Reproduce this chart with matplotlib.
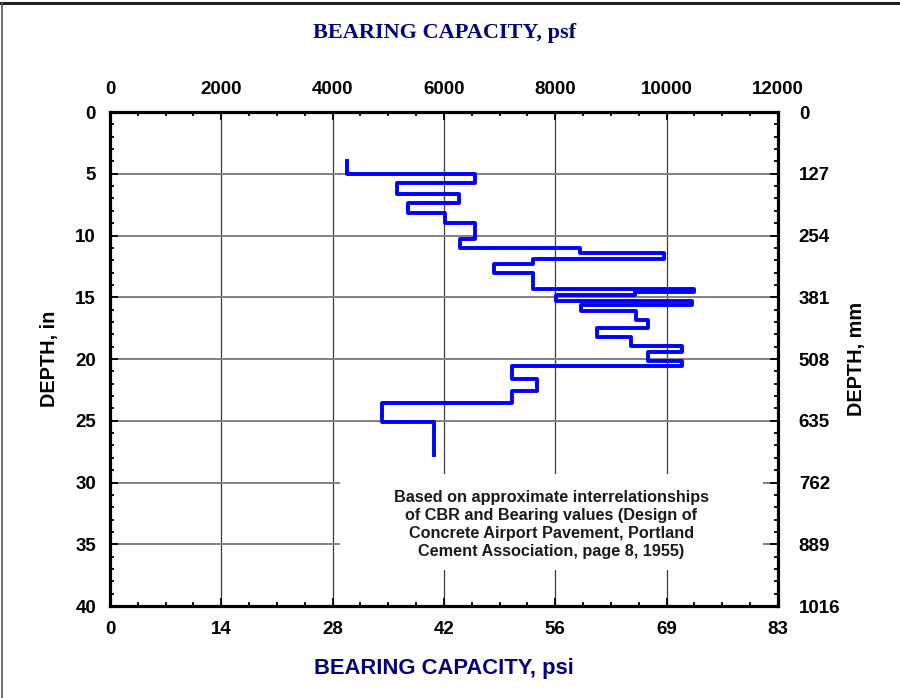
import matplotlib.pyplot as plt
from matplotlib.lines import Line2D
from matplotlib.patches import Rectangle
from matplotlib.ticker import MultipleLocator, FixedLocator, FixedFormatter

# layer boundaries (in) and bearing capacity of each layer (psf)
depth_in = [3.95, 5.0, 5.75, 6.65, 7.4, 8.2, 9.0, 10.3, 11.05, 11.45, 11.9,
            12.3, 13.0, 14.3, 14.55, 14.8, 15.3, 15.65, 16.1, 16.85, 17.5,
            18.25, 18.95, 19.45, 20.15, 20.6, 21.65, 22.6, 23.55, 25.1, 27.8]
bearing_psf = [4250, 6550, 5150, 6270, 5350, 6020, 6550, 6290, 8450, 9960,
               7600, 6890, 7600, 10500, 9430, 8010, 10450, 8460, 9450, 9660,
               8750, 9360, 10270, 9660, 10270, 7230, 7670, 7230, 4880, 5820]

psf_ticks = [0, 2000, 4000, 6000, 8000, 10000, 12000]
depth_ticks = [0, 5, 10, 15, 20, 25, 30, 35, 40]
note = ("Based on approximate interrelationships\n"
        "of CBR and Bearing values (Design of\n"
        "Concrete Airport Pavement, Portland\n"
        "Cement Association, page 8, 1955)")

plt.rcParams['font.family'] = ['Liberation Sans', 'DejaVu Sans']
plt.rcParams['font.weight'] = 'bold'
navy = '#000080'

fig = plt.figure(figsize=(9, 6.98), dpi=100)
ax = fig.add_axes([0.1222, 0.1318, 0.7422, 0.7077])

# build the step outline: vertical run per layer, horizontal jump at each boundary
xs, ys = [], []
for i, p in enumerate(bearing_psf):
    xs += [p, p]
    ys += [depth_in[i], depth_in[i + 1]]
ax.plot(xs, ys, color='#0000FF', lw=2.8, zorder=4, solid_joinstyle='round')

ax.set_xlim(0, 12000)
ax.set_ylim(40, 0)

for v in psf_ticks[1:-1]:
    ax.axvline(v, color='#3a3a3a', lw=0.9, zorder=1)
for d in depth_ticks[1:-1]:
    ax.axhline(d, color='#808080', lw=1.4, zorder=1)

# white panel behind the source note
ax.add_patch(Rectangle((4130, 29.3), 7600, 7.8, facecolor='white',
                       edgecolor='none', zorder=2))
ax.text(7930, 33.4, note, ha='center', va='center', fontsize=11.7,
        fontweight='bold', color='#1a1a1a', linespacing=1.25, zorder=3)

for s in ax.spines.values():
    s.set_linewidth(2.3)
    s.set_zorder(5)

ax.xaxis.set_major_locator(FixedLocator(psf_ticks))
ax.xaxis.set_major_formatter(FixedFormatter([str(round(v / 144)) for v in psf_ticks]))
ax.xaxis.set_minor_locator(MultipleLocator(500))
ax.yaxis.set_major_locator(FixedLocator(depth_ticks))
ax.yaxis.set_minor_locator(MultipleLocator(1))
ax.tick_params(which='both', direction='in', top=True, right=True,
               width=1.3, labelsize=13.5)
ax.tick_params(which='major', length=6)
ax.tick_params(which='minor', length=3)
ax.tick_params(axis='x', pad=11)
ax.tick_params(axis='y', pad=10)

top = ax.secondary_xaxis('top')
top.xaxis.set_major_locator(FixedLocator(psf_ticks))
top.xaxis.set_major_formatter(FixedFormatter([str(v) for v in psf_ticks]))
top.tick_params(length=0, pad=10, labelsize=13.5)
top.spines['top'].set_visible(False)

right = ax.secondary_yaxis('right', functions=(lambda d: d * 25.4, lambda m: m / 25.4))
mm_ticks = [round(d * 25.4) for d in depth_ticks]
right.yaxis.set_major_locator(FixedLocator(mm_ticks))
right.yaxis.set_major_formatter(FixedFormatter([str(m) for m in mm_ticks]))
right.tick_params(length=0, pad=15, labelsize=13.5)
right.spines['right'].set_visible(False)

ax.set_xlabel('BEARING CAPACITY, psi', fontsize=15.8, fontweight='bold',
              color=navy, labelpad=14)
ax.set_ylabel('DEPTH, in', fontsize=14.3, fontweight='bold', labelpad=12)
right.set_ylabel('DEPTH, mm', fontsize=14.3, fontweight='bold', labelpad=5)

fig.text(0.4945, 1 - 33 / 698, 'BEARING CAPACITY, psf', ha='center', va='center',
         fontsize=16, fontweight='bold', color=navy, family='Liberation Serif')

# page frame lines
fig.add_artist(Line2D([0, 1], [1 - 3 / 698] * 2, color='#222222', lw=2.2))
fig.add_artist(Line2D([2 / 900] * 2, [0, 1 - 3 / 698], color='#555555', lw=1.2))

fig.savefig('out.png', dpi=100)
